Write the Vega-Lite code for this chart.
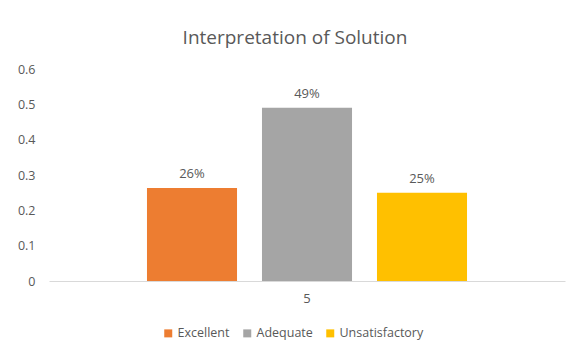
{
  "$schema": "https://vega.github.io/schema/vega-lite/v6.json",
  "width": 516,
  "height": 212,
  "autosize": {"type": "none"},
  "padding": {"left": 49, "top": 69, "right": 13, "bottom": 66},
  "background": "white",
  "config": {
    "view": {"stroke": null},
    "font": "Open Sans",
    "axis": {"labelColor": "#595959", "labelFont": "Open Sans", "labelFontSize": 12}
  },
  "title": {
    "text": "Interpretation of Solution",
    "font": "Open Sans",
    "fontSize": 19,
    "fontWeight": "normal",
    "color": "#595959",
    "anchor": "middle",
    "dx": -12,
    "offset": 15
  },
  "data": {
    "values": [
      {"cat": "5", "series": "Excellent", "value": 0.263, "label": "26%"},
      {"cat": "5", "series": "Adequate", "value": 0.49, "label": "49%"},
      {"cat": "5", "series": "Unsatisfactory", "value": 0.25, "label": "25%"}
    ]
  },
  "encoding": {
    "x": {
      "field": "cat",
      "type": "nominal",
      "scale": {"paddingInner": 0, "paddingOuter": 0},
      "axis": {"title": null, "labelAngle": 0, "ticks": false, "domainColor": "#d9d9d9", "domainWidth": 1, "labelPadding": 11, "labelFontSize": 13}
    },
    "xOffset": {
      "field": "series",
      "type": "nominal",
      "sort": ["Excellent", "Adequate", "Unsatisfactory"],
      "scale": {"paddingInner": 0.217, "paddingOuter": 0.852}
    },
    "y": {
      "field": "value",
      "type": "quantitative",
      "scale": {"domain": [0, 0.6]},
      "axis": {"title": null, "values": [0, 0.1, 0.2, 0.3, 0.4, 0.5, 0.6], "format": ".1~f", "domain": false, "ticks": false, "grid": false, "labelPadding": 14, "labelFontSize": 12.5}
    }
  },
  "layer": [
    {
      "mark": {"type": "bar"},
      "encoding": {
        "color": {
          "field": "series",
          "type": "nominal",
          "sort": ["Excellent", "Adequate", "Unsatisfactory"],
          "scale": {"domain": ["Excellent", "Adequate", "Unsatisfactory"], "range": ["#ED7D31", "#A5A5A5", "#FFC000"]},
          "legend": {
            "title": null,
            "orient": "none",
            "legendX": 113,
            "legendY": 258,
            "direction": "horizontal",
            "symbolType": "square",
            "symbolSize": 64,
            "symbolStrokeWidth": 0,
            "labelColor": "#595959",
            "labelFont": "Open Sans",
            "labelFontSize": 12.5,
            "columnPadding": 11,
            "labelOffset": 3
          }
        }
      }
    },
    {
      "mark": {"type": "text", "baseline": "bottom", "dy": -7, "color": "#595959", "fontSize": 13, "font": "Open Sans"},
      "encoding": {"text": {"field": "label"}}
    }
  ]
}
